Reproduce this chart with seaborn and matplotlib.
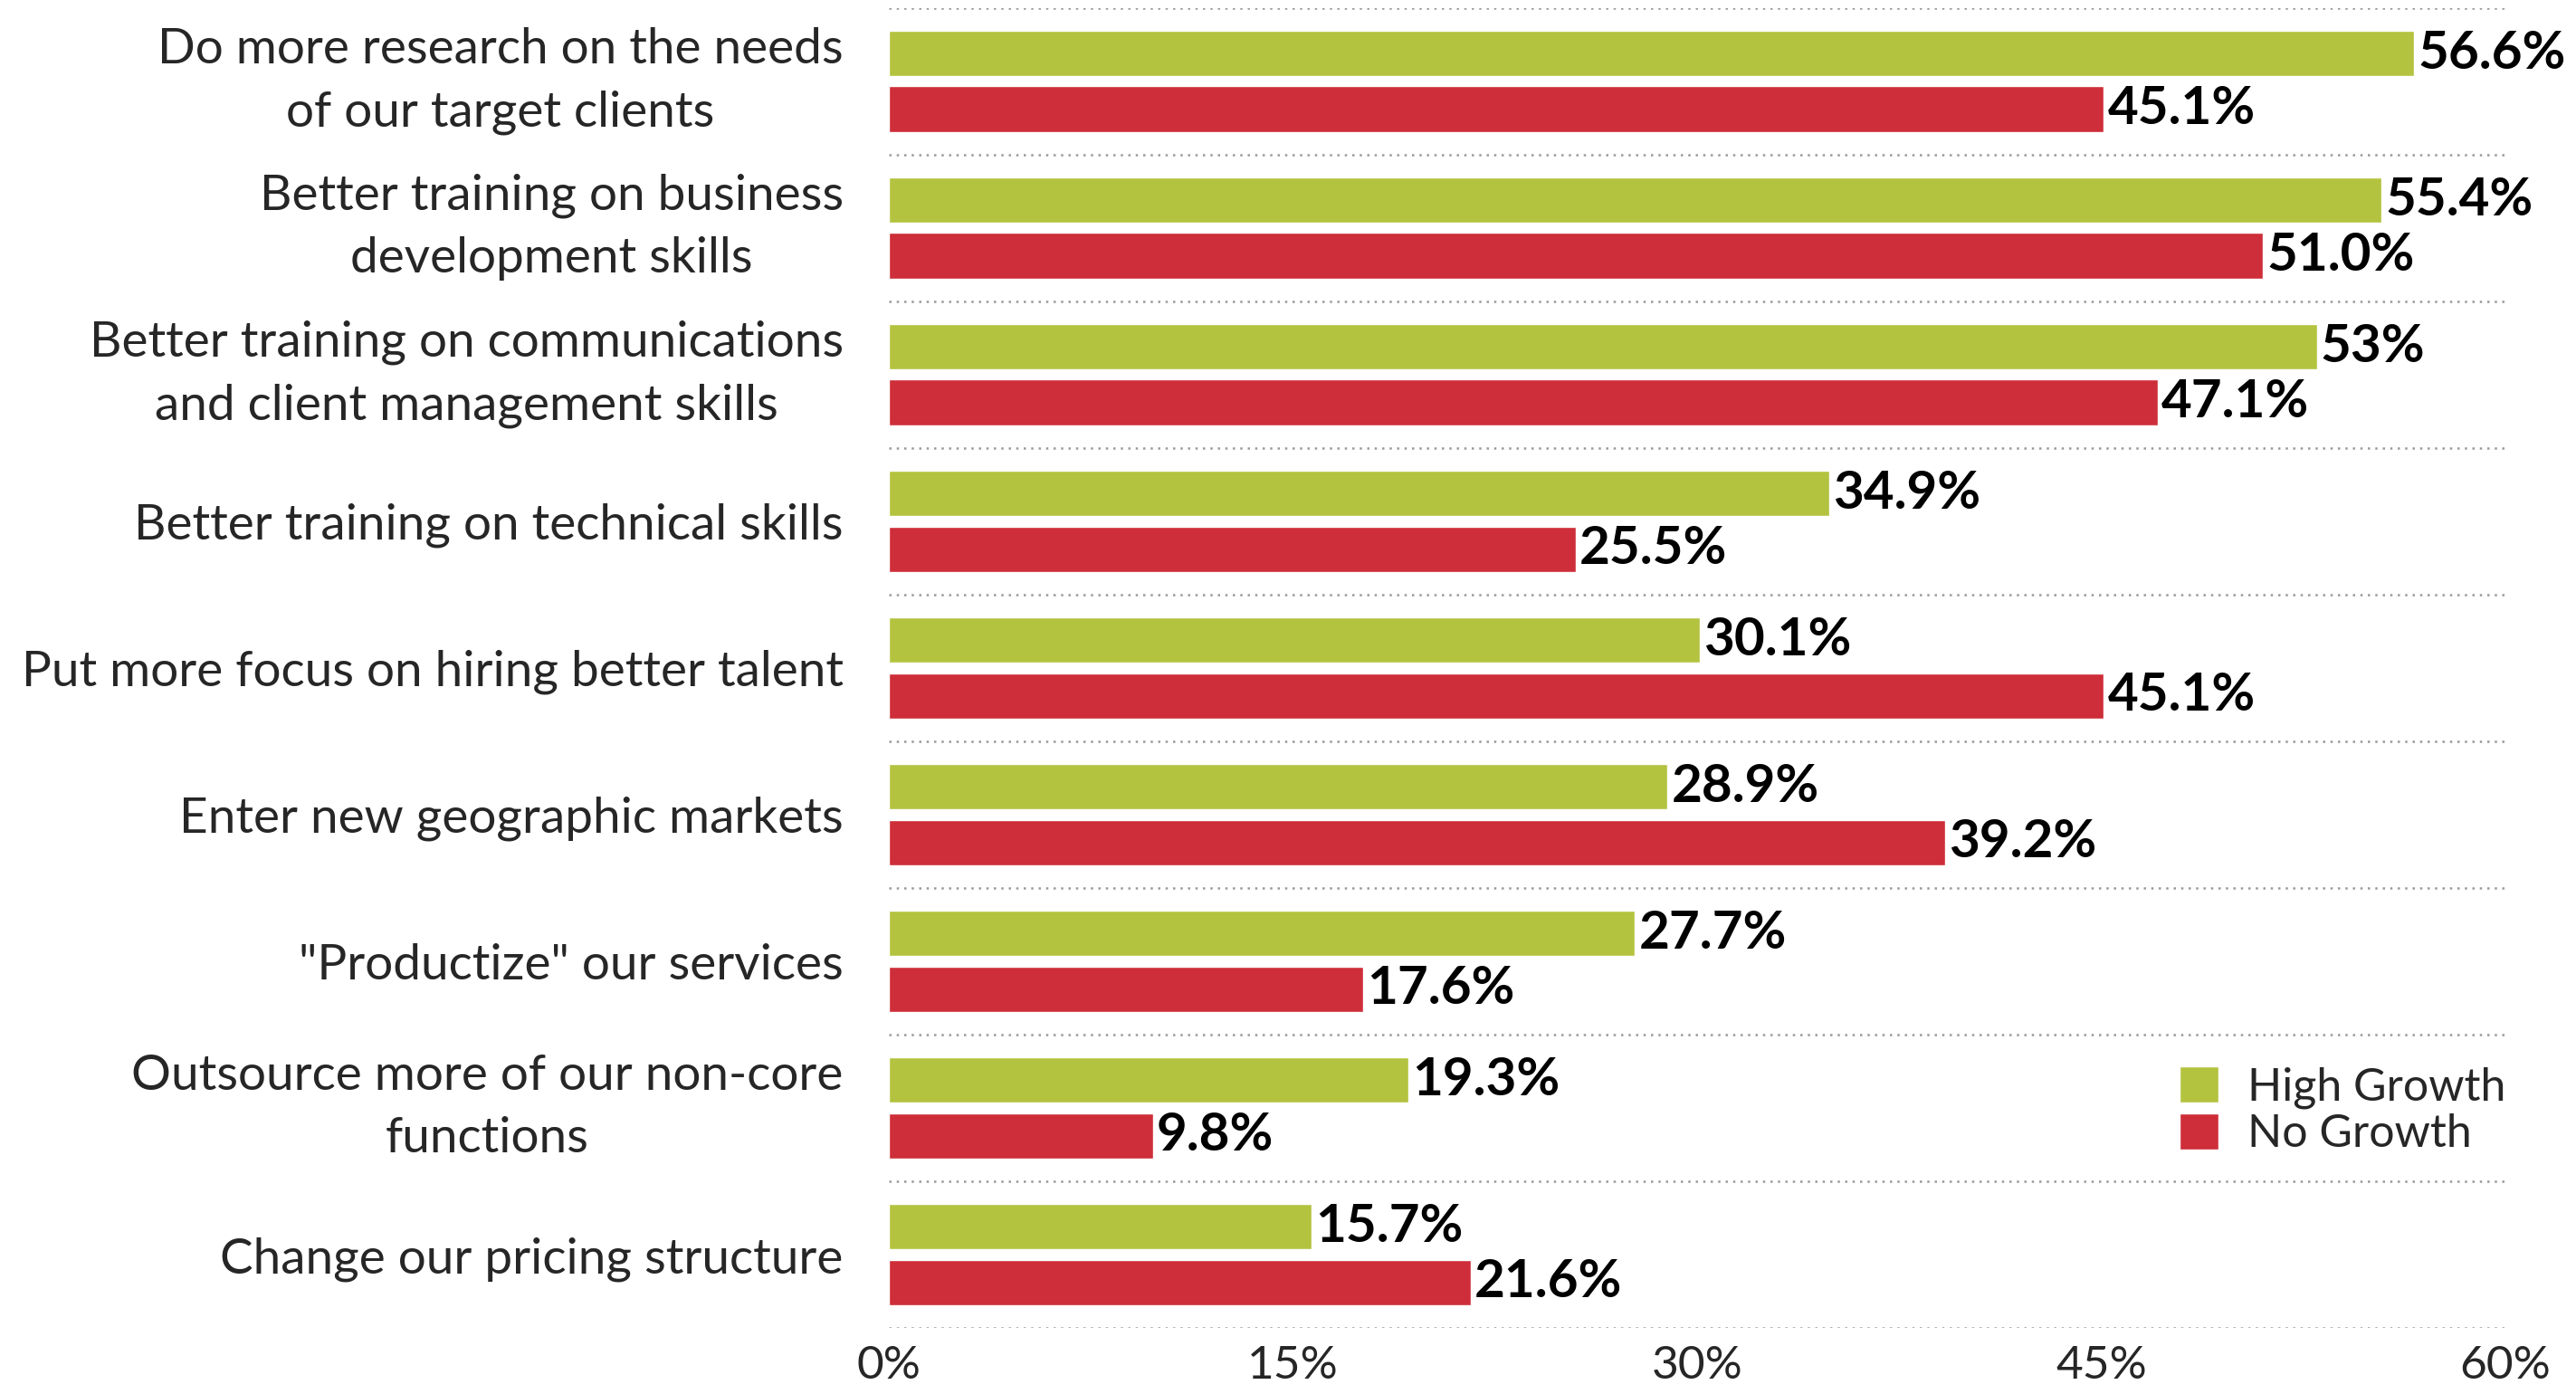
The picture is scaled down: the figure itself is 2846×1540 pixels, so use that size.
import matplotlib
matplotlib.use("Agg")
import matplotlib.pyplot as plt
import matplotlib.transforms as mtransforms
import seaborn as sns
import pandas as pd

# Survey answers and the share of each firm group choosing them
items = [
    "Do more research on the needs\nof our target clients",
    "Better training on business\ndevelopment skills",
    "Better training on communications\nand client management skills",
    "Better training on technical skills",
    "Put more focus on hiring better talent",
    "Enter new geographic markets",
    "\"Productize\" our services",
    "Outsource more of our non-core\nfunctions",
    "Change our pricing structure",
]
high_growth = ["56.6", "55.4", "53", "34.9", "30.1", "28.9", "27.7", "19.3", "15.7"]
no_growth = ["45.1", "51.0", "47.1", "25.5", "45.1", "39.2", "17.6", "9.8", "21.6"]
groups = ["High Growth", "No Growth"]
x_ticks = [0, 15, 30, 45, 60]

GREEN = "#B4C33F"
RED = "#CE2E39"

df = pd.DataFrame({
    "item": items * 2,
    "value": [float(v) for v in high_growth] + [float(v) for v in no_growth],
    "group": [groups[0]] * len(items) + [groups[1]] * len(items),
})

sns.set_theme(style="white")
plt.rcParams["font.family"] = ["Lato", "DejaVu Sans"]

fig = plt.figure(figsize=(28.46, 15.40), dpi=100)
ax = fig.add_axes([0.345, 0.0474, 0.6276, 0.9468])

sns.barplot(data=df, y="item", x="value", hue="group", orient="h",
            palette=[GREEN, RED], width=0.76, gap=0.18, ax=ax,
            saturation=1, legend=True)

# value labels at bar ends
for container, vals in zip(ax.containers, [high_growth, no_growth]):
    ax.bar_label(container, labels=[v + "%" for v in vals], padding=3,
                 fontsize=42, fontweight="bold", color="black")

ax.set_xlim(0, 60)
ax.set_ylim(len(items) - 0.5, -0.5)
ax.set_xticks(x_ticks)
ax.set_xticklabels([f"{t}%" for t in x_ticks])
ax.set_xlabel("")
ax.set_ylabel("")

# dotted separators between the question groups
for k in range(len(items) + 1):
    ax.axhline(k - 0.5, color="#9a9a9a", lw=1.8, ls=(0, (1, 2.3)), zorder=0)

for s in ax.spines.values():
    s.set_visible(False)
ax.tick_params(axis="both", length=0)
ax.tick_params(axis="x", pad=14, labelsize=37)
ax.tick_params(axis="y", pad=36, labelsize=39.5)

# two-line labels sit slightly higher so they centre on their bar pair
lift = mtransforms.ScaledTranslation(0, 11 / 72, fig.dpi_scale_trans)
for lab in ax.get_yticklabels():
    lab.set_multialignment("center")
    lab.set_linespacing(1.5)
    if "\n" in lab.get_text():
        lab.set_transform(lab.get_transform() + lift)

handles, labels = ax.get_legend_handles_labels()
ax.legend(handles, labels, loc="upper left",
          bbox_to_anchor=(2408 / 2846, 1 - 1178 / 1540),
          bbox_transform=fig.transFigure, frameon=False, fontsize=36,
          handlelength=0.85, handleheight=0.85, handletextpad=0.65,
          labelspacing=0.1, borderpad=0, borderaxespad=0)

fig.savefig("out.png", dpi=100, facecolor="white")
